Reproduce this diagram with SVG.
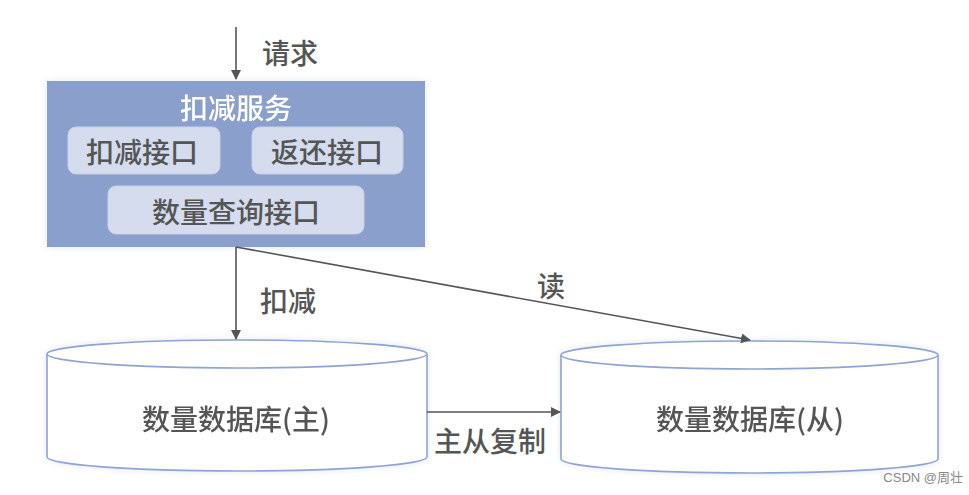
<svg xmlns="http://www.w3.org/2000/svg" width="969" height="495" viewBox="0 0 969 495">
<defs>
<style>
.t{font-family:"Noto Sans CJK SC","Liberation Sans",sans-serif;fill:#555;font-size:28px;font-weight:500;text-anchor:middle;dominant-baseline:central}
.l{font-family:"Noto Sans CJK SC","Liberation Sans",sans-serif;fill:#555;font-size:28px;font-weight:500;dominant-baseline:central}
.inner{fill:#d4dcee;stroke:#c6d0e8;stroke-width:1}
.cyl{fill:#fff;stroke:#8fa4d3;stroke-width:1.6}
.conn{stroke:#555;stroke-width:1.6;fill:none}
</style>
<marker id="ah" viewBox="0 0 10 10" refX="9" refY="5" markerWidth="10" markerHeight="10" markerUnits="userSpaceOnUse" orient="auto">
<path d="M0,0 L10,5 L0,10 z" fill="#555"/>
</marker>
<filter id="glow" x="-10%" y="-20%" width="120%" height="140%">
<feGaussianBlur in="SourceAlpha" stdDeviation="3"/>
<feColorMatrix type="matrix" values="0 0 0 0 0.55 0 0 0 0 0.62 0 0 0 0 0.8 0 0 0 0.5 0"/>
<feMerge><feMergeNode/><feMergeNode in="SourceGraphic"/></feMerge>
</filter>
</defs>
<rect width="969" height="495" fill="#fff"/>
<g id="service" filter="url(#glow)">
<rect x="47" y="81" width="378" height="166" fill="#8b9fcd"/>
<text class="t" x="236" y="107" style="fill:#fff">扣减服务</text>
</g>
<g id="deduct-api">
<rect class="inner" x="68" y="127" width="152" height="47" rx="8"/>
<text class="t" x="142" y="151">扣减接口</text>
</g>
<g id="return-api">
<rect class="inner" x="252" y="127" width="151" height="47" rx="8"/>
<text class="t" x="327" y="151">返还接口</text>
</g>
<g id="query-api">
<rect class="inner" x="108" y="186" width="256" height="48" rx="8"/>
<text class="t" x="236" y="211">数量查询接口</text>
</g>
<g id="db-master" filter="url(#glow)">
<path class="cyl" d="M47,354 L47,457 A190,14 0 0 0 427,457 L427,354"/>
<ellipse class="cyl" cx="237" cy="354" rx="190" ry="14"/>
<text class="t" x="236" y="418">数量数据库(主)</text>
</g>
<g id="db-slave" filter="url(#glow)">
<path class="cyl" d="M561,355 L561,459 A188.5,14 0 0 0 938,459 L938,355"/>
<ellipse class="cyl" cx="749.5" cy="355" rx="188.5" ry="14"/>
<text class="t" x="750" y="418">数量数据库(从)</text>
</g>
<g id="connectors">
<line class="conn" x1="236" y1="27" x2="236" y2="79" marker-end="url(#ah)"/>
<text class="l" x="262" y="52">请求</text>
<line class="conn" x1="236" y1="247" x2="236" y2="339" marker-end="url(#ah)"/>
<text class="l" x="260" y="300">扣减</text>
<line class="conn" x1="236" y1="247" x2="750" y2="340" marker-end="url(#ah)"/>
<text class="l" x="537" y="285">读</text>
<line class="conn" x1="427" y1="412" x2="560" y2="412" marker-end="url(#ah)"/>
<text class="l" x="434" y="440">主从复制</text>
</g>
<text x="963" y="482" style="font-family:'Liberation Sans','Noto Sans CJK SC',sans-serif;font-size:13px;fill:#888;text-anchor:end">CSDN @周壮</text>
</svg>
